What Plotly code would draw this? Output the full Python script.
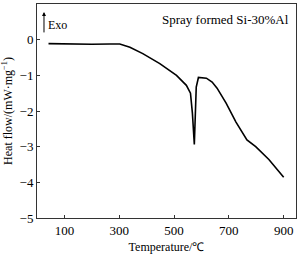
import plotly.graph_objects as go

temperature = [42, 120, 200, 266, 302, 339, 386, 448, 509, 545, 560, 567, 574, 581, 589, 618, 639, 657, 690, 726, 766, 798, 846, 900]
heat_flow = [-0.11, -0.13, -0.13, -0.12, -0.12, -0.21, -0.39, -0.67, -1.0, -1.28, -1.5, -2.06, -2.94, -1.33, -1.06, -1.08, -1.19, -1.36, -1.78, -2.31, -2.81, -3.0, -3.36, -3.86]

x_ticks = [100, 300, 500, 700, 900]
y_ticks = [1, 0, -1, -2, -3, -4, -5]
y_tick_labels = ["1", "0", "−1", "−2", "−3", "−4", "−5"]

font_family = "Liberation Serif"

fig = go.Figure()
fig.add_trace(go.Scatter(x=temperature, y=heat_flow, mode="lines",
                         line=dict(color="black", width=1.6), showlegend=False))

fig.update_layout(
    width=300, height=255,
    margin=dict(l=37, r=3, t=3, b=36),
    paper_bgcolor="white", plot_bgcolor="white",
    font=dict(family=font_family, size=13, color="black"),
    xaxis=dict(range=[0, 945], tickvals=x_ticks, ticks="inside", ticklen=3,
               showgrid=False, zeroline=False, showline=True, mirror=True,
               linecolor="#333", linewidth=1, tickcolor="#333",
               title=dict(text="Temperature/℃", font=dict(size=12), standoff=6)),
    yaxis=dict(range=[-5, 1], tickvals=y_ticks, ticktext=y_tick_labels,
               ticks="inside", ticklen=3,
               showgrid=False, zeroline=False, showline=True, mirror=True,
               linecolor="#333", linewidth=1, tickcolor="#333",
               title=dict(text="Heat flow/(mW·mg<sup>−1</sup>)", font=dict(size=12), standoff=4)),
)

fig.add_annotation(x=0.98, y=0.97, xref="paper", yref="paper", text="Spray formed Si-30%Al",
                   showarrow=False, xanchor="right", yanchor="top", font=dict(size=13))
fig.add_annotation(x=0.027, y=0.963, xref="paper", yref="paper", ax=0, ay=22,
                   axref="pixel", ayref="pixel", text="", showarrow=True,
                   arrowhead=2, arrowsize=0.8, arrowwidth=1, arrowcolor="black")
fig.add_annotation(x=0.035, y=0.903, xref="paper", yref="paper", text="Exo",
                   showarrow=False, xanchor="left", yanchor="middle", font=dict(size=12))

fig.write_html("out.html")
